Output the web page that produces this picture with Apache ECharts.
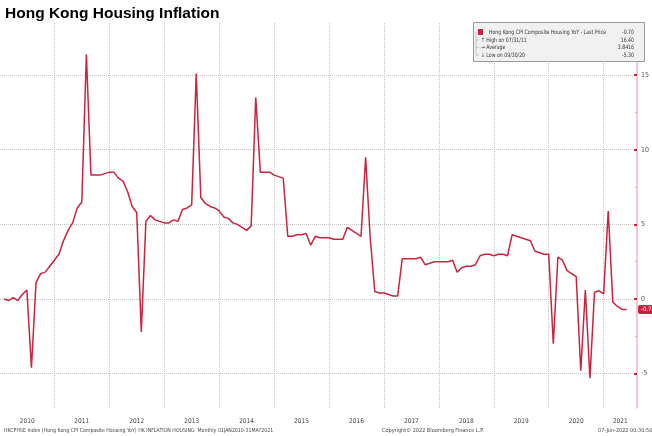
<!DOCTYPE html>
<html>
<head>
<meta charset="utf-8">
<title>Hong Kong Housing Inflation</title>
<script src="https://cdn.jsdelivr.net/npm/echarts@6/dist/echarts.min.js"></script>
<style>
  html, body { margin: 0; padding: 0; background: #fff; }
  #chart { width: 652px; height: 436px; }
</style>
</head>
<body>
<div id="chart"></div>
<script>
// HKCPHSE Index, monthly YoY %, Jan 2010 - May 2021
const years = ['2010', '2011', '2012', '2013', '2014', '2015', '2016', '2017', '2018', '2019', '2020', '2021']
const values = [
  // 2010
  0.0, -0.1, 0.1, -0.1, 0.3, 0.6, -4.6, 1.1, 1.7, 1.8, 2.2, 2.6,
  // 2011
  3.0, 3.9, 4.6, 5.1, 6.1, 6.5, 16.4, 8.3, 8.3, 8.3, 8.4, 8.5,
  // 2012
  8.5, 8.1, 7.9, 7.2, 6.2, 5.8, -2.2, 5.2, 5.6, 5.3, 5.2, 5.1,
  // 2013
  5.1, 5.3, 5.2, 6.0, 6.1, 6.3, 15.1, 6.8, 6.4, 6.2, 6.1, 5.9,
  // 2014
  5.5, 5.4, 5.1, 5.0, 4.8, 4.6, 4.9, 13.5, 8.5, 8.5, 8.5, 8.3,
  // 2015
  8.2, 8.1, 4.2, 4.2, 4.3, 4.3, 4.4, 3.6, 4.2, 4.1, 4.1, 4.1,
  // 2016
  4.0, 4.0, 4.0, 4.8, 4.6, 4.4, 4.2, 9.5, 4.1, 0.5, 0.4, 0.4,
  // 2017
  0.3, 0.2, 0.2, 2.7, 2.7, 2.7, 2.7, 2.8, 2.3, 2.4, 2.5, 2.5,
  // 2018
  2.5, 2.5, 2.6, 1.8, 2.1, 2.2, 2.2, 2.3, 2.9, 3.0, 3.0, 2.9,
  // 2019
  3.0, 3.0, 2.9, 4.3, 4.2, 4.1, 4.0, 3.9, 3.2, 3.1, 3.0, 3.0,
  // 2020
  -3.0, 2.8, 2.6, 1.9, 1.7, 1.5, -4.8, 0.6, -5.3, 0.45, 0.55, 0.35,
  // 2021
  5.9, -0.2, -0.5, -0.7, -0.7,
]
const yTicks = [-5, 0, 5, 10, 15]
const yMinorTicks = [-2.5, 2.5, 7.5, 12.5, 17.5]
const lastPrice = '-0.70'
const average = '3.8416'
const highDate = '07/31/11'
const lowDate = '09/30/20'

// month-end positions in decimal years
const startYear = 2010
const xMin = 2010.011
const xMax = 2021.607
const points = values.map((v, i) => [startYear + (i + 1) / 12, v])
const yearLines = years.slice(1).map(y => Number(y))
// labels sit in the middle of the visible part of each year
const yearMids = years.map(y => (Math.max(Number(y), xMin) + Math.min(Number(y) + 1, xMax)) / 2)
const high = Math.max(...values).toFixed(2)
const low = Math.min(...values).toFixed(2)

const red = '#c9243f'
const narrow = "'Liberation Sans Narrow', 'DejaVu Sans Condensed', 'Liberation Sans', sans-serif"

const chart = echarts.init(document.getElementById('chart'))

const legendRows = [
  { t: 'Hong Kong CPI Composite Housing YoY - Last Price', v: lastPrice, y: 32 },
  { t: '\u2191 High on ' + highDate, v: high, y: 40 },
  { t: '\u2192 Average', v: average, y: 47.5 },
  { t: '\u2193 Low on ' + lowDate, v: low, y: 55 },
]

const graphics = [
  {
    type: 'text', left: 5, top: 6,
    style: { text: 'Hong Kong Housing Inflation', fontSize: 15.5, fontWeight: 'bold', fill: '#000', fontFamily: "'Liberation Sans', Arial, sans-serif" },
  },
  {
    type: 'rect', shape: { x: 473.5, y: 22.5, width: 171, height: 39 },
    style: { fill: '#f1f1f1', stroke: '#9a9a9a', lineWidth: 1 }, z: 100,
  },
  {
    type: 'rect', shape: { x: 478, y: 29, width: 5, height: 6 },
    style: { fill: red }, z: 101,
  },
  {
    type: 'polyline', shape: { points: [[476, 32], [476, 55], [479, 55]] },
    style: { stroke: '#aaa', lineWidth: 0.6, fill: null }, z: 101,
  },
  {
    type: 'polyline', shape: { points: [[476, 40], [479, 40]] },
    style: { stroke: '#aaa', lineWidth: 0.6, fill: null }, z: 101,
  },
  {
    type: 'polyline', shape: { points: [[476, 47.5], [479, 47.5]] },
    style: { stroke: '#aaa', lineWidth: 0.6, fill: null }, z: 101,
  },
]
legendRows.forEach((r, i) => {
  graphics.push({
    type: 'text', x: i === 0 ? 489 : 481, y: r.y, z: 102, scaleX: 0.86,
    style: { text: r.t, fontSize: 6, fill: '#333', fontFamily: narrow, verticalAlign: 'middle' },
  })
  graphics.push({
    type: 'text', x: 634, y: r.y, z: 102, scaleX: 0.86,
    style: { text: r.v, fontSize: 6, fill: '#333', fontFamily: narrow, align: 'right', verticalAlign: 'middle' },
  })
})
// footer
graphics.push(
  {
    type: 'text', x: 4, y: 431, scaleX: 0.95,
    style: { text: 'HKCPHSE Index (Hong Kong CPI Composite Housing YoY) HK INFLATION HOUSING  Monthly 01JAN2010-31MAY2021', fontSize: 5.5, fill: '#444', fontFamily: narrow, verticalAlign: 'middle' },
  },
  {
    type: 'text', x: 382, y: 431,
    style: { text: 'Copyright\u00a9 2022 Bloomberg Finance L.P.', fontSize: 5.5, fill: '#444', fontFamily: narrow, verticalAlign: 'middle' },
  },
  {
    type: 'text', x: 598, y: 431,
    style: { text: '07-Jun-2022 00:30:50', fontSize: 5.5, fill: '#444', fontFamily: narrow, verticalAlign: 'middle' },
  }
)

chart.setOption({
  animation: false,
  backgroundColor: '#fff',
  grid: { left: 0, right: 15, top: 23, bottom: 28, containLabel: false, outerBoundsMode: 'none' },
  xAxis: {
    type: 'value',
    min: xMin,
    max: xMax,
    axisLine: { show: false },
    axisTick: { show: false, customValues: yearLines },
    splitLine: { show: true, lineStyle: { color: '#c4c4c4', type: [1, 1], width: 1 } },
    axisLabel: {
      customValues: yearMids,
      formatter: v => String(Math.floor(v)),
      fontSize: 6.5, color: '#444', fontFamily: narrow, margin: 10,
    },
  },
  yAxis: [
    {
      type: 'value',
      position: 'right',
      min: -7.3,
      max: 18.49,
      axisLine: { show: true, lineStyle: { color: '#f3b9c5', width: 1.5 } },
      axisTick: { show: true, inside: true, length: 3, customValues: yTicks, lineStyle: { color: red, width: 2 } },
      splitLine: { show: true, lineStyle: { color: '#c4c4c4', type: [1, 1], width: 1 } },
      axisLabel: { customValues: yTicks, fontSize: 7, color: '#555', fontFamily: narrow, margin: 4 },
    },
    {
      type: 'value',
      position: 'right',
      min: -7.3,
      max: 18.49,
      axisLine: { show: false },
      axisTick: { show: true, inside: true, length: 2, customValues: yMinorTicks, lineStyle: { color: '#f0a8b8', width: 1 } },
      splitLine: { show: false },
      axisLabel: { show: false },
    },
  ],
  series: [
    {
      type: 'line',
      data: points,
      clip: false,
      showSymbol: false,
      lineStyle: { color: red, width: 1.5 },
      itemStyle: { color: red },
      markLine: {
        silent: true,
        symbol: 'none',
        data: [{ yAxis: Number(lastPrice) }],
        lineStyle: { color: 'rgba(0,0,0,0)' },
        label: {
          show: true,
          position: 'end',
          distance: 1,
          formatter: lastPrice,
          color: '#fff',
          backgroundColor: red,
          borderRadius: 2,
          padding: [2, 3, 1, 3],
          fontSize: 6,
          fontFamily: narrow,
        },
      },
    },
  ],
  graphic: graphics,
})
</script>
</body>
</html>
